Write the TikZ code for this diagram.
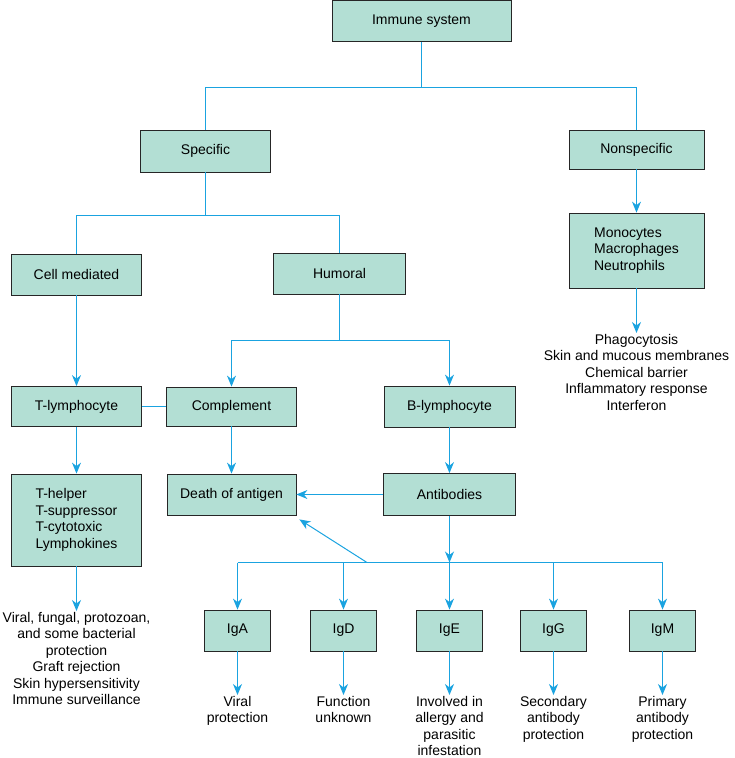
\documentclass[tikz,border=0pt]{standalone}
\usepackage{fontspec}
\setmainfont{Liberation Sans}
\usetikzlibrary{arrows.meta,calc}
\definecolor{boxfill}{HTML}{B3DFD4}
\definecolor{linkblue}{HTML}{1AA3E0}
\begin{document}
\begin{tikzpicture}[x=1pt, y=-1pt,
  every node/.style={font=\fontsize{14}{16.5}\selectfont},
  box/.style={draw=black!85, line width=0.8pt, fill=boxfill, inner sep=2pt, align=center},
  note/.style={align=center, inner sep=1pt},
  link/.style={linkblue, line width=1pt},
  >={Stealth[length=11pt, width=9pt, inset=3.5pt]}]
\useasboundingbox (0,0) rectangle (735,758);
% top levels
\node[box, minimum width=179pt, minimum height=41pt] (immune) at (421.5,21) {Immune system};
\node[box, minimum width=130pt, minimum height=42pt] (specific) at (205.5,151) {Specific};
\node[box, minimum width=135pt, minimum height=39pt] (nonspec) at (636.5,149.5) {Nonspecific};
\node[box, align=left, minimum width=135pt, minimum height=75pt] (mono) at (636.5,250.5) {Monocytes\\Macrophages\\Neutrophils};
\node[note, anchor=north] (phago) at (636.5,333) {Phagocytosis\\Skin and mucous membranes\\Chemical barrier\\Inflammatory response\\Interferon};
\node[box, minimum width=130pt, minimum height=41pt] (cell) at (76.5,274.5) {Cell mediated};
\node[box, minimum width=132pt, minimum height=41pt] (humoral) at (339.5,273.5) {Humoral};
% third row
\node[box, minimum width=130pt, minimum height=40pt] (tlym) at (76.5,406.5) {T-lymphocyte};
\node[box, minimum width=130pt, minimum height=39pt] (compl) at (231.5,406.5) {Complement};
\node[box, minimum width=131pt, minimum height=41pt] (blym) at (449.5,406.5) {B-lymphocyte};
\node[box, align=left, minimum width=130pt, minimum height=92pt] (thelper) at (76.5,520) {T-helper\\T-suppressor\\T-cytotoxic\\Lymphokines};
\node[box, minimum width=129pt, minimum height=41pt] (death) at (231.5,494.5) {Death of antigen};
\node[box, minimum width=132pt, minimum height=42pt] (antib) at (449.5,494.5) {Antibodies};
\node[note, anchor=north] (tcell) at (76.5,611) {Viral, fungal, protozoan,\\and some bacterial\\protection\\Graft rejection\\Skin hypersensitivity\\Immune surveillance};
% immunoglobulins
\foreach \ig/\x in {IgA/237.5, IgD/343.5, IgE/449.5, IgG/553.5, IgM/662.5}
  \node[box, minimum width=66pt, minimum height=41pt] (\ig) at (\x,630.5) {\ig};
\node[note, anchor=north] (viral) at (237.5,695) {Viral\\protection};
\node[note, anchor=north] (unknown) at (343.5,695) {Function\\unknown};
\node[note, anchor=north] (allergy) at (449.5,695) {Involved in\\allergy and\\parasitic\\infestation};
\node[note, anchor=north] (second) at (553.5,695) {Secondary\\antibody\\protection};
\node[note, anchor=north] (primary) at (662.5,695) {Primary\\antibody\\protection};
% connectors
\coordinate (j1) at (421.5,87.5);
\coordinate (j2) at (205.5,215.5);
\coordinate (j3) at (339.5,340.5);
\coordinate (j4) at (367,562.5);
\draw[link] (immune.south) -- (j1);
\draw[link] (j1) -| (specific.north);
\draw[link] (j1) -| (nonspec.north);
\draw[link,->] (nonspec.south) -- (mono.north);
\draw[link,->] (mono.south) -- (phago.north);
\draw[link] (specific.south) -- (j2);
\draw[link] (j2) -| (cell.north);
\draw[link] (j2) -| (humoral.north);
\draw[link,->] (cell.south) -- (tlym.north);
\draw[link] (humoral.south) -- (j3);
\draw[link,->] (j3) -| (compl.north);
\draw[link,->] (j3) -| (blym.north);
\draw[link] (tlym.east) -- (compl.west);
\draw[link,->] (tlym.south) -- (thelper.north);
\draw[link,->] (thelper.south) -- (tcell.north);
\draw[link,->] (compl.south) -- (death.north);
\draw[link,->] (blym.south) -- (antib.north);
\draw[link,->] (antib.west) -- (death.east);
\draw[link,->] (antib.south) -- (antib.south |- j4);
\draw[link,->] (j4) -- ($(death.south east)+(3,4)$);
\draw[link] (IgA.north |- j4) -- (IgM.north |- j4);
\foreach \ig in {IgA, IgD, IgE, IgG, IgM}
  \draw[link,->] (\ig.north |- j4) -- (\ig.north);
\draw[link,->] (IgA.south) -- (viral.north);
\draw[link,->] (IgD.south) -- (unknown.north);
\draw[link,->] (IgE.south) -- (allergy.north);
\draw[link,->] (IgG.south) -- (second.north);
\draw[link,->] (IgM.south) -- (primary.north);
\end{tikzpicture}
\end{document}
